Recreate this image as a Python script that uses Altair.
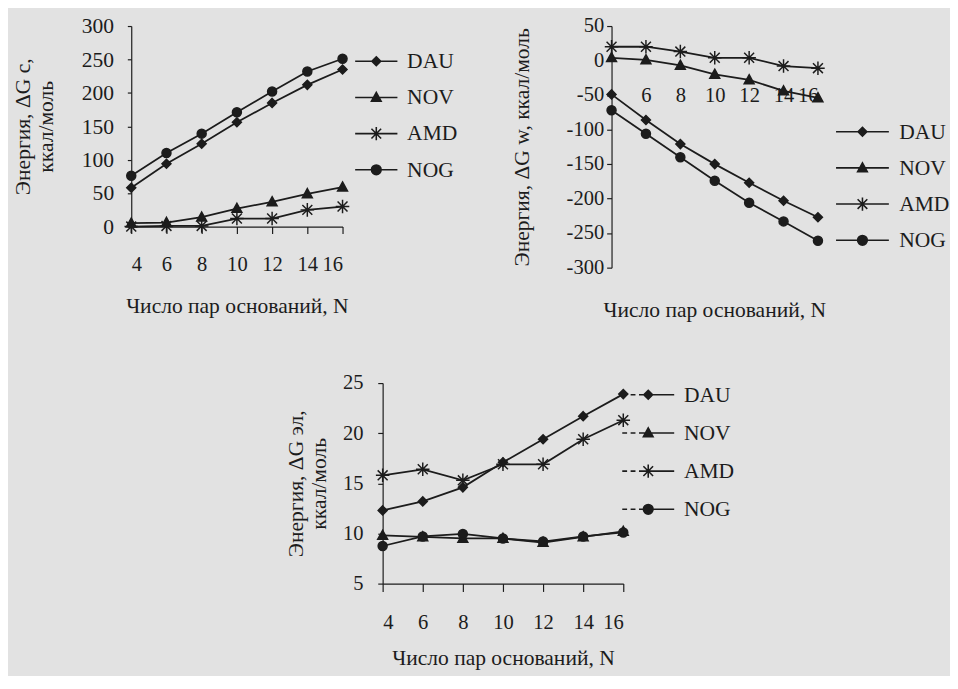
import altair as alt
import pandas as pd

N = [4, 6, 8, 10, 12, 14, 16]
SERIES = ["DAU", "NOV", "AMD", "NOG"]

# Panel 1: ΔG c
c_dau = [58, 94, 124, 156, 185, 212, 235]
c_nov = [5, 6, 14, 27, 37, 49, 59]
c_amd = [0, 1, 1, 12, 12, 25, 30]
c_nog = [76, 110, 139, 171, 202, 232, 251]

# Panel 2: ΔG w
w_dau = [-49, -86, -121, -150, -177, -203, -227]
w_nov = [4, 1, -7, -20, -28, -44, -54]
w_amd = [20, 20, 13, 4, 4, -8, -11]
w_nog = [-72, -106, -140, -174, -206, -233, -261]

# Panel 3: ΔG эл
e_dau = [12.3, 13.2, 14.6, 17.1, 19.4, 21.7, 23.9]
e_nov = [9.8, 9.65, 9.5, 9.5, 9.1, 9.65, 10.2]
e_amd = [15.8, 16.4, 15.3, 16.9, 16.9, 19.4, 21.3]
e_nog = [8.75, 9.7, 9.95, 9.5, 9.2, 9.7, 10.1]

X_TITLE = "Число пар оснований, N"

INK = "#1c1c1c"
BG = "#e2e2e2"
FONT = "Liberation Serif"


def frame(series_values):
    rows = []
    for s, ys in zip(SERIES, series_values):
        for n, v in zip(N, ys):
            rows.append({"N": n, "series": s, "value": v})
    return pd.DataFrame(rows)


MARKERS = [
    "M0,-1L1,0L0,1L-1,0Z",
    "M0,-1.15L1.1,0.85L-1.1,0.85Z",
    "M-1.5,0H1.5M0,-1.5V1.5M-1.1,-1.1L1.1,1.1M-1.1,1.1L1.1,-1.1",
    "circle",
]
LEG_MARKERS = [
    "M0,-1L1,0L0,1L-1,0Z",
    "M0,-1.15L1.1,0.85L-1.1,0.85Z",
    "M-1.5,0H1.5M0,-1.5V1.5M-1.1,-1.1L1.1,1.1M-1.1,1.1L1.1,-1.1",
    "M1.1,0A1.1,1.1,0,1,1,-1.1,0A1.1,1.1,0,1,1,1.1,0Z",
]


def legend_paths(half, dashed=False):
    if dashed:
        line = (f"M{-half:.2f},0H{-half + 1.1:.2f}"
                f"M{-half + 1.9:.2f},0H{-half + 3.0:.2f}"
                f"M{-half + 3.8:.2f},0H{half:.2f}")
    else:
        line = f"M{-half:.2f},0H{half:.2f}"
    return [line + m for m in LEG_MARKERS]


def panel(df, ydom, xaxis, yaxis, legend, leg_paths, width, height, title=None):
    base = alt.Chart(df).encode(
        x=alt.X("N:Q", scale=alt.Scale(domain=[4, 16], nice=False, zero=False), axis=xaxis),
        y=alt.Y("value:Q", scale=alt.Scale(domain=ydom, nice=False, zero=False), axis=yaxis),
    )
    lines = base.mark_line(color=INK, strokeWidth=1.8).encode(detail="series:N")
    pts = base.mark_point(filled=True, fill=INK, stroke=INK, strokeWidth=1.5,
                          size=85, opacity=1).encode(
        shape=alt.Shape("series:N", scale=alt.Scale(domain=SERIES, range=MARKERS),
                        legend=None)
    )
    leg = base.mark_point(filled=True, fill=INK, stroke=INK, strokeWidth=1.6, size=81,
                          opacity=1).encode(
        shape=alt.Shape("series:N", scale=alt.Scale(domain=SERIES, range=leg_paths),
                        legend=legend, title=None)
    ).transform_filter("false")
    props = dict(width=width, height=height)
    if title is not None:
        props["title"] = title
    return alt.layer(lines, pts, leg).resolve_scale(shape="independent").properties(**props)


def make_legend(lx, ly, label_offset, row_pad):
    return alt.Legend(
        orient="none", legendX=lx, legendY=ly, padding=0,
        labelFont=FONT, labelFontSize=22, labelColor=INK,
        symbolSize=81, symbolStrokeWidth=1.6,
        labelOffset=label_offset, rowPadding=row_pad,
    )


axis_common = dict(
    grid=False, domainColor=INK, tickColor=INK, domainWidth=1.2, tickWidth=1.2,
    labelFont=FONT, labelColor=INK, titleFont=FONT, titleColor=INK,
    titleFontWeight="normal", titleFontSize=22,
)
PLAIN = "toString(datum.value)"

# ---------- Panel 1 ----------
p1 = panel(
    frame([c_dau, c_nov, c_amd, c_nog]), [0, 300],
    xaxis=alt.Axis(values=N, tickSize=7, labelPadding=21, labelFontSize=21,
                   title=X_TITLE, titlePadding=22, **axis_common),
    yaxis=alt.Axis(values=[0, 50, 100, 150, 200, 250, 300], tickSize=4, labelPadding=14,
                   labelFontSize=22, title=["Энергия, ΔG с,", "ккал/моль"],
                   titlePadding=24, **axis_common),
    legend=make_legend(239.5, 25, 20.5, 15),
    leg_paths=legend_paths(4.8),
    width=216, height=205,
)

# ---------- Panel 2 ----------
p2 = panel(
    frame([w_dau, w_nov, w_amd, w_nog]), [-300, 50],
    xaxis=alt.Axis(values=[6, 8, 10, 12, 14, 16], ticks=False, domain=False, tickSize=0,
                   labelPadding=0, labelBaseline="middle", offset=-176,
                   labelFontSize=21, title=None, **axis_common),
    yaxis=alt.Axis(values=[50, 0, -50, -100, -150, -200, -250, -300], tickSize=5,
                   labelPadding=3, labelFontSize=21, labelExpr=PLAIN,
                   title="Энергия, ΔG w, ккал/моль", titlePadding=33, **axis_common),
    legend=make_legend(245.5, 97, 26.5, 15),
    leg_paths=legend_paths(6.0),
    width=211, height=247,
    title=alt.TitleParams(X_TITLE, orient="bottom", offset=23, font=FONT, fontSize=22,
                          fontWeight="normal", color=INK),
)

# ---------- Panel 3 ----------
p3 = panel(
    frame([e_dau, e_nov, e_amd, e_nog]), [5, 25],
    xaxis=alt.Axis(values=N, tickSize=8, labelPadding=21, labelFontSize=21,
                   title=X_TITLE, titlePadding=16, **axis_common),
    yaxis=alt.Axis(values=[5, 10, 15, 20, 25], tickSize=5, labelPadding=15,
                   labelFontSize=21, title=["Энергия, ΔG эл,", "ккал/моль"],
                   titlePadding=12, **axis_common),
    legend=make_legend(260.5, 1, 25.5, 17),
    leg_paths=legend_paths(5.9, dashed=True),
    width=246, height=205,
)

spacer = alt.Chart(pd.DataFrame({"N": [4]})).mark_point(opacity=0).encode(
    x=alt.X("N:Q", axis=None)
).properties(width=257, height=205)

top = alt.hconcat(p1, p2, spacing=275, bounds="flush")
bottom = alt.hconcat(spacer, p3, spacing=0, bounds="flush")

chart = alt.vconcat(top, bottom, spacing=365, bounds="flush").properties(
    padding={"left": 4, "top": 0, "right": 0, "bottom": 0},
    background=BG,
).configure_view(stroke=None).resolve_scale(shape="independent")

chart.save("out.html", embed_options={"renderer": "svg", "actions": False})
